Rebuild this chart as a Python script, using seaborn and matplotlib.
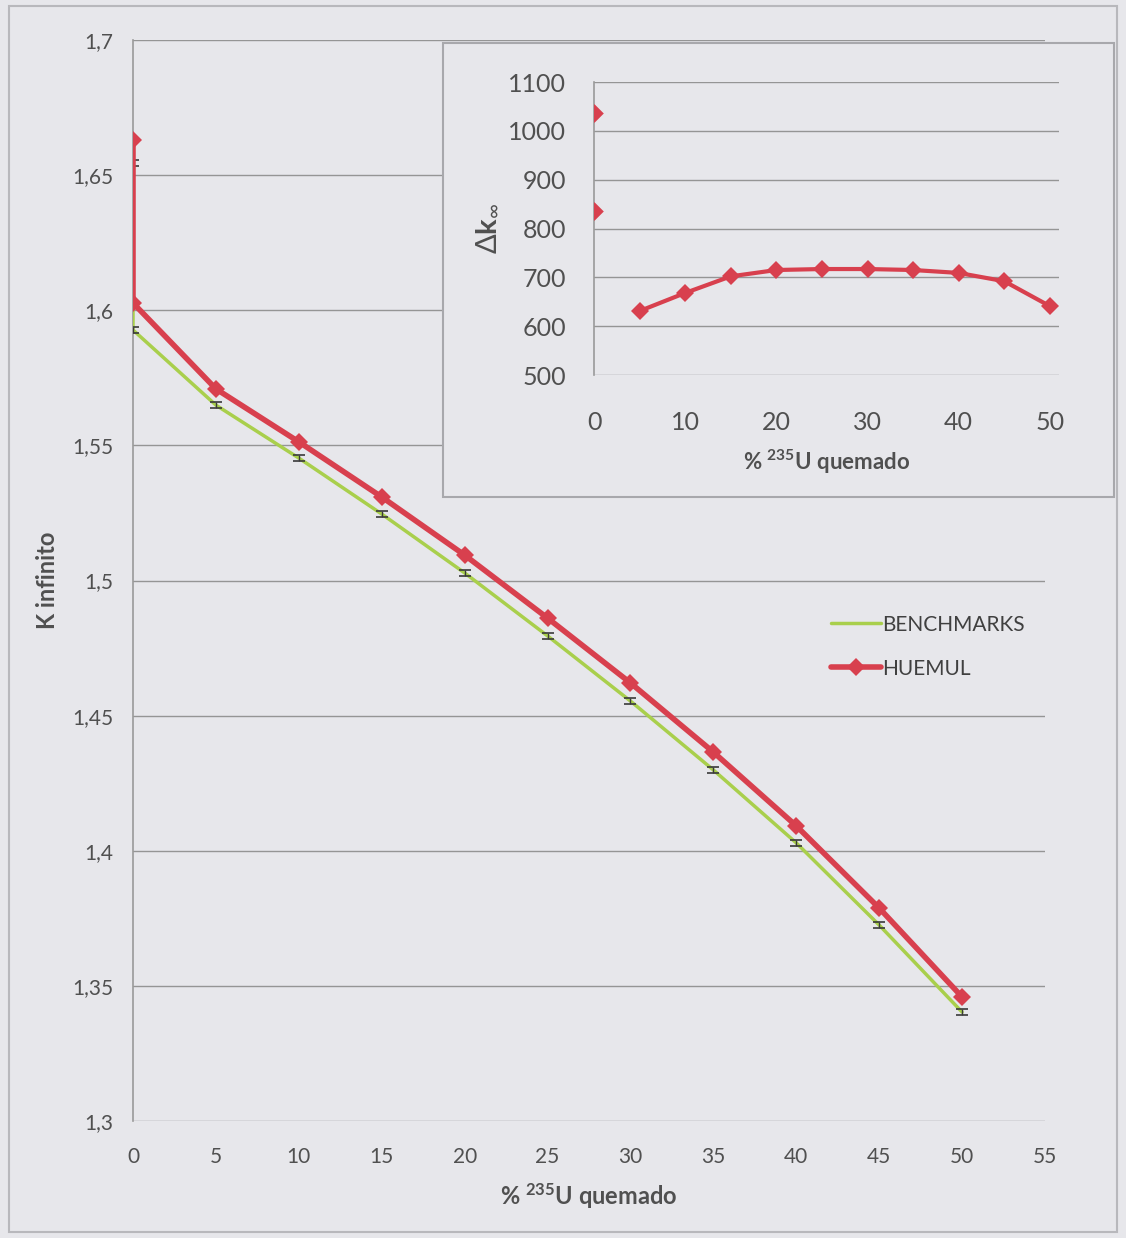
import matplotlib
matplotlib.use("Agg")
import matplotlib.pyplot as plt
from matplotlib.lines import Line2D
from matplotlib.patches import Rectangle
from matplotlib.ticker import FuncFormatter
import pandas as pd
import seaborn as sns

# Burnup (% U-235 burned); x=0 appears twice (two initial states)
burnup = [0, 0, 5, 10, 15, 20, 25, 30, 35, 40, 45, 50]
k_benchmarks = [1.6545, 1.5927, 1.5649, 1.5453, 1.5246, 1.5028, 1.4795,
                1.4554, 1.4299, 1.4029, 1.3725, 1.3403]
k_benchmarks_err = [0.0012] * len(burnup)
k_huemul = [1.6630, 1.6027, 1.5709, 1.5513, 1.5309, 1.5094, 1.4861,
            1.4621, 1.4365, 1.4092, 1.3788, 1.3459]

# Difference HUEMUL - BENCHMARKS (pcm)
dk_burnup_initial = [0, 0]
dk_initial = [1036, 836]
dk_burnup = [5, 10, 15, 20, 25, 30, 35, 40, 45, 50]
dk_values = [631, 668, 702, 715, 717, 717, 715, 709, 692, 641]

main_ticks_x = [0, 5, 10, 15, 20, 25, 30, 35, 40, 45, 50, 55]
main_ticks_y = [1.3, 1.35, 1.4, 1.45, 1.5, 1.55, 1.6, 1.65, 1.7]
inset_ticks_x = [0, 10, 20, 30, 40, 50]
inset_ticks_y = [500, 600, 700, 800, 900, 1000, 1100]

GREEN = "#a9cf4c"
RED = "#d8404e"
BG = "#e7e7eb"
GRID = "#959595"
TXT = "#505050"

sns.set_theme(style="white")
plt.rcParams["font.family"] = ["Lato", "DejaVu Sans"]
plt.rcParams["mathtext.fontset"] = "custom"
plt.rcParams["mathtext.rm"] = "Lato"
plt.rcParams["mathtext.bf"] = "Lato:bold"
plt.rcParams["mathtext.it"] = "Lato:italic"

fig = plt.figure(figsize=(11.26, 12.38), dpi=100, facecolor=BG)
fig.patches.append(Rectangle((9 / 1126, 6 / 1238), 1108 / 1126, 1226 / 1238,
                             transform=fig.transFigure, fill=False,
                             edgecolor="#b8b8bc", lw=1.5, zorder=0))

df = pd.DataFrame({"burnup": burnup, "bench": k_benchmarks,
                   "err": k_benchmarks_err, "huemul": k_huemul})

ax = fig.add_axes([133 / 1126, 1 - 1121 / 1238, 912 / 1126, 1081 / 1238])
ax.set_facecolor(BG)
sns.lineplot(data=df, x="burnup", y="bench", ax=ax, color=GREEN, lw=2.5,
             sort=False, estimator=None, zorder=3)
ax.errorbar(df["burnup"], df["bench"], yerr=df["err"], fmt="none",
            ecolor="#3a3a3a", elinewidth=1.0, capsize=4, capthick=1.2, zorder=4)
sns.lineplot(data=df, x="burnup", y="huemul", ax=ax, color=RED, lw=4,
             marker="D", markersize=9, markeredgewidth=0, sort=False,
             estimator=None, zorder=5)

ax.set_xlim(0, 55)
ax.set_ylim(1.3, 1.7)
ax.set_xticks(main_ticks_x)
ax.set_yticks(main_ticks_y)
ax.yaxis.set_major_formatter(FuncFormatter(lambda v, p: f"{v:g}".replace(".", ",")))
ax.grid(axis="y", color=GRID, lw=1.0)
ax.grid(axis="x", visible=False)
for s in ["top", "right", "bottom"]:
    ax.spines[s].set_visible(False)
ax.spines["left"].set_color("#9a9a9a")
ax.spines["left"].set_linewidth(1.2)
ax.tick_params(axis="both", length=0, labelsize=15, labelcolor=TXT, pad=14)
ax.tick_params(axis="x", pad=19)
ax.set_xlabel(r"% $\mathbf{^{235}}$U quemado", fontsize=17, fontweight="bold",
              color=TXT, labelpad=10)
ax.set_ylabel("K infinito", fontsize=17, fontweight="bold", color=TXT, labelpad=10)

handles = [Line2D([], [], color=GREEN, lw=2.5),
           Line2D([], [], color=RED, lw=4, marker="D", markersize=9,
                  markeredgewidth=0)]
ax.legend(handles, ["BENCHMARKS", "HUEMUL"], loc="upper left",
          bbox_to_anchor=(812 / 1126, 1 - 596 / 1238),
          bbox_transform=fig.transFigure, frameon=False, fontsize=15,
          handlelength=2.4, handletextpad=0.05, labelspacing=1.15,
          labelcolor="#404040")

# Inset with the difference between codes
fig.patches.append(Rectangle((443 / 1126, 1 - 497 / 1238), 671 / 1126, 454 / 1238,
                             transform=fig.transFigure, facecolor=BG,
                             edgecolor="#a8a8ac", lw=1.5, zorder=2))
axi = fig.add_axes([594 / 1126, 1 - 375 / 1238, 465 / 1126, 293 / 1238])
axi.set_zorder(3)
axi.set_facecolor(BG)
sns.lineplot(x=dk_burnup, y=dk_values, ax=axi, color=RED, lw=3,
             marker="D", markersize=9, markeredgewidth=0, zorder=4)
sns.scatterplot(x=dk_burnup_initial, y=dk_initial, ax=axi, color=RED,
                marker="D", s=90, linewidth=0, zorder=4)
axi.set_xlim(0, 51)
axi.set_ylim(500, 1100)
axi.set_xticks(inset_ticks_x)
axi.set_yticks(inset_ticks_y)
axi.grid(axis="y", color=GRID, lw=1.0)
axi.grid(axis="x", visible=False)
for s in ["top", "right", "bottom"]:
    axi.spines[s].set_visible(False)
axi.spines["left"].set_color("#9a9a9a")
axi.spines["left"].set_linewidth(1.2)
axi.tick_params(axis="both", length=0, labelsize=18, labelcolor=TXT)
axi.tick_params(axis="x", pad=26)
axi.tick_params(axis="y", pad=20)
axi.set_xlabel(r"% $\mathbf{^{235}}$U quemado", fontsize=16, fontweight="bold",
               color=TXT, labelpad=10)
axi.set_ylabel(r"$\Delta\mathbf{k}_{\infty}$", fontsize=21, color=TXT, labelpad=6)

fig.savefig("out.png", dpi=100, facecolor=BG)
